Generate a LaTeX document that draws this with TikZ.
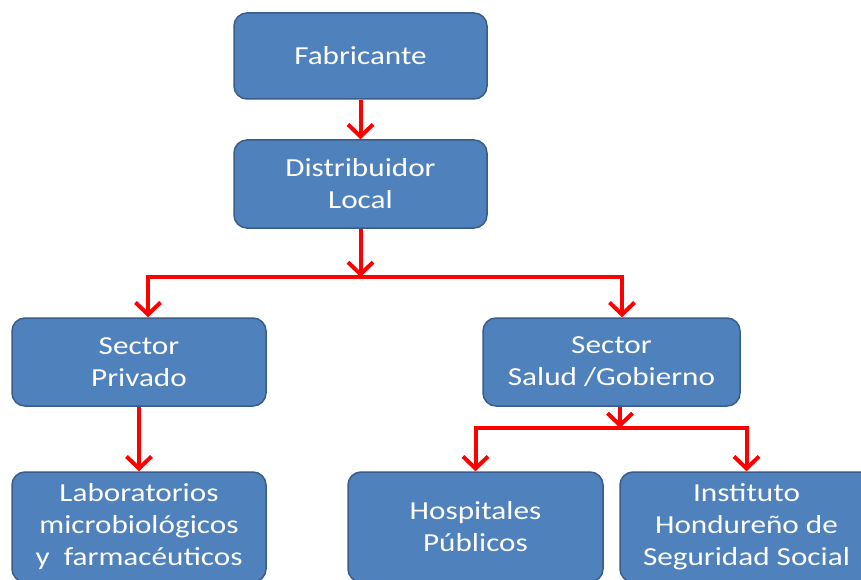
\documentclass[tikz,border=0pt]{standalone}
\usepackage{fontspec}
\setmainfont{Carlito}[FakeStretch=1.2]
\usetikzlibrary{arrows.meta}
\definecolor{boxfill}{HTML}{4F81BD}
\definecolor{boxline}{HTML}{385D8A}
\tikzset{
  box/.style={draw=boxline, fill=boxfill, line width=1.5pt, rounded corners=13pt,
    text=white, align=center, font=\fontsize{26}{32}\selectfont, inner sep=0pt,
    minimum width=253pt},
  conn/.style={draw=red, line width=4pt},
  arr/.style={conn, -{Straight Barb[length=12pt,width=25pt]}}
}
\begin{document}
\begin{tikzpicture}[x=1pt,y=-1pt]
\clip (0,0) rectangle (861,580);
\fill[white] (0,0) rectangle (861,580);
\node[box, minimum height=86pt] (fab) at (360.5,56) {Fabricante};
\node[box, minimum height=88pt] (dist) at (360.5,184) {Distribuidor\\Local};
\node[box, minimum height=88pt, minimum width=254pt] (priv) at (139,362) {Sector\\Privado};
\node[box, minimum height=88pt, minimum width=257pt] (salud) at (611.5,362) {Sector\\Salud /Gobierno};
\node[box, minimum height=110pt, minimum width=254pt] (lab) at (139,527) {Laboratorios\\microbiológicos\\y\ \ farmacéuticos};
\node[box, minimum height=110pt, minimum width=255pt] (hosp) at (475.5,527) {Hospitales\\Públicos};
\node[box, minimum height=110pt, minimum width=253pt] (inst) at (746.5,527) {Instituto\\Hondureño de\\Seguridad Social};
\coordinate (j1) at (360.5,277);
\coordinate (j2) at (620,428);
\draw[arr] (fab.south) -- (dist.north);
\draw[arr] (dist.south) -- (j1);
\draw[arr] (j1) -| ([xshift=9pt]priv.north);
\draw[arr] (j1) -| ([xshift=10.5pt]salud.north);
\draw[arr] (priv.south) -- (lab.north);
\draw[arr] ([xshift=8.5pt]salud.south) -- (j2);
\draw[arr] (j2) -| (hosp.north);
\draw[arr] (j2) -| (inst.north);
\end{tikzpicture}
\end{document}
